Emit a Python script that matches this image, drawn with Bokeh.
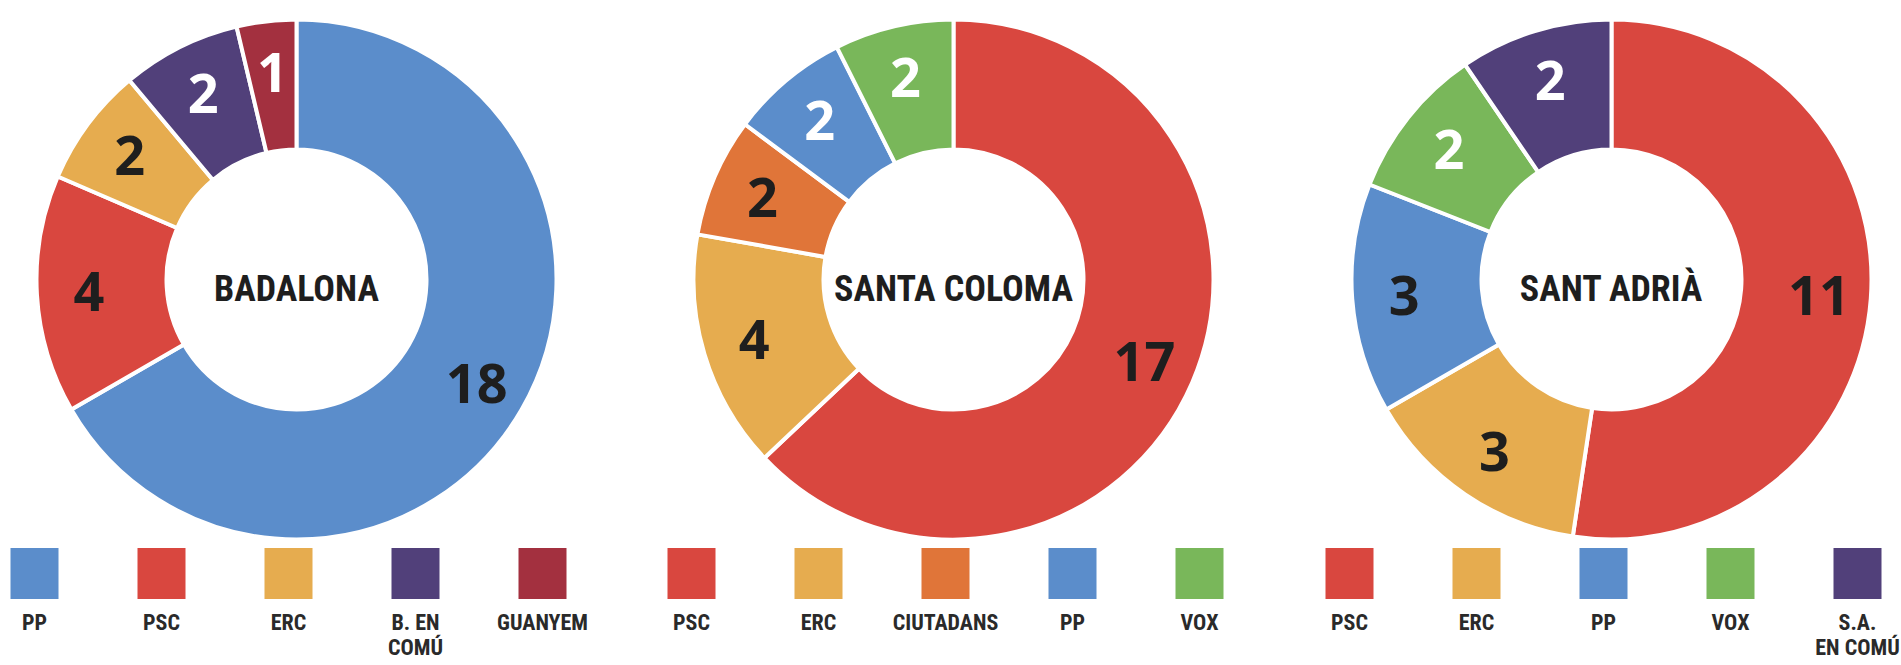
import math
from bokeh.plotting import figure
from bokeh.models import Range1d, ColumnDataSource
from bokeh.core.properties import value
from bokeh.embed import file_html
from bokeh.resources import INLINE

# ---------------- data ----------------
towns = ["BADALONA", "SANTA COLOMA", "SANT ADRIÀ"]

badalona_parties = ["PP", "PSC", "ERC", "B. EN\nCOMÚ", "GUANYEM"]
badalona_seats = [18, 4, 2, 2, 1]

santa_coloma_parties = ["PSC", "ERC", "CIUTADANS", "PP", "VOX"]
santa_coloma_seats = [17, 4, 2, 2, 2]

sant_adria_parties = ["PSC", "ERC", "PP", "VOX", "S.A.\nEN COMÚ"]
sant_adria_seats = [11, 3, 3, 2, 2]

# ---------------- styles ----------------
party_colors = {
    "PP": "#5b8dcb",
    "PSC": "#d9473f",
    "ERC": "#e6ac4f",
    "B. EN\nCOMÚ": "#51407a",
    "GUANYEM": "#a3303f",
    "CIUTADANS": "#e07539",
    "VOX": "#79b75a",
    "S.A.\nEN COMÚ": "#51407a",
}
DARK = "#1e1e1e"
WHITE = "#ffffff"
number_colors = [
    [DARK, DARK, DARK, WHITE, WHITE],
    [DARK, DARK, DARK, WHITE, WHITE],
    [DARK, DARK, DARK, WHITE, WHITE],
]
COND_FONT = "Roboto Condensed, DejaVu Sans Condensed, sans-serif"

W, H = 1901, 665
centers_x = [296, 953, 1611]
cy = H - 279
R_OUT, R_IN, R_LABEL = 260, 130, 208
LEG_STEP = 127
LEG_OFFSET = -8
LEG_Y = H - 573
LEG_W, LEG_H = 48, 51
LEG_TEXT_Y = H - 609

p = figure(width=W, height=H, x_range=Range1d(0, W), y_range=Range1d(0, H),
           output_backend="svg", toolbar_location=None,
           x_axis_location=None, y_axis_location=None, min_border=0)
p.outline_line_color = None
p.xgrid.visible = False
p.ygrid.visible = False
p.background_fill_color = "white"
p.border_fill_color = "white"

charts = [
    (badalona_parties, badalona_seats),
    (santa_coloma_parties, santa_coloma_seats),
    (sant_adria_parties, sant_adria_seats),
]

for ci, (parties, seats) in enumerate(charts):
    cx = centers_x[ci]
    total = float(sum(seats))
    starts, ends, lx, ly = [], [], [], []
    cum = 0.0
    for s in seats:
        t0 = 2 * math.pi * cum / total
        cum += s
        t1 = 2 * math.pi * cum / total
        starts.append(math.pi / 2 - t1)
        ends.append(math.pi / 2 - t0)
        tm = (t0 + t1) / 2
        lx.append(cx + R_LABEL * math.sin(tm))
        ly.append(cy + R_LABEL * math.cos(tm))
    cols = [party_colors[pp] for pp in parties]
    src = ColumnDataSource(dict(
        x=[cx] * len(seats), y=[cy] * len(seats), start=starts, end=ends,
        color=cols, lx=lx, ly=ly, txt=[str(s) for s in seats],
        tcol=number_colors[ci]))
    p.annular_wedge(x="x", y="y", inner_radius=R_IN, outer_radius=R_OUT,
                    start_angle="start", end_angle="end", fill_color="color",
                    line_color="white", line_width=4, source=src)
    p.text(x="lx", y="ly", text="txt", text_color="tcol", source=src,
           text_font=value("Open Sans"), text_font_style="bold",
           text_font_size="54px", text_align="center", text_baseline="middle")
    # center title
    p.text(x=[cx], y=[H - 288], text=[towns[ci]], text_color=DARK,
           text_font=value(COND_FONT), text_font_style="bold",
           text_font_size="36px", text_align="center", text_baseline="middle")
    # legend
    n = len(parties)
    legx = [cx + LEG_OFFSET + (i - (n - 1) / 2) * LEG_STEP for i in range(n)]
    lsrc = ColumnDataSource(dict(x=legx, y=[LEG_Y] * n, color=cols,
                                 ty=[LEG_TEXT_Y] * n, name=parties))
    p.rect(x="x", y="y", width=LEG_W, height=LEG_H, fill_color="color",
           line_color=None, source=lsrc)
    p.text(x="x", y="ty", text="name", source=lsrc, text_color="#2a2a2a",
           text_font=value(COND_FONT), text_font_style="bold",
           text_font_size="22px", text_align="center", text_baseline="top",
           text_line_height=1.0)

open("out.html", "w").write(file_html(p, INLINE))
